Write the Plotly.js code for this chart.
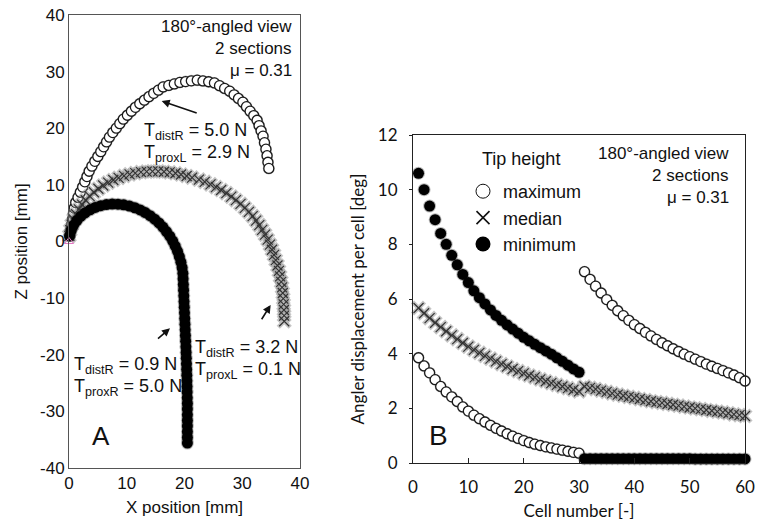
<!DOCTYPE html>
<html><head><meta charset="utf-8">
<script src="https://cdn.plot.ly/plotly-3.0.1.min.js"></script>
<style>html,body{margin:0;padding:0;background:#fff;} #chart{width:762px;height:530px;}</style>
</head><body><div id="chart"></div>
<script>
// ---------- Panel A: tip shapes (X, Z positions in mm) ----------
const maxX = [0.15,0.30,0.45,0.61,0.76,0.91,1.16,1.56,1.96,2.36,2.74,3.11,3.49,3.96,4.47,4.99,5.5,6.0,6.5,7.0,7.58,8.19,8.79,9.4,10.1,10.8,11.5,12.25,13.04,13.84,14.66,15.48,16.3,17.27,18.23,19.2,20.19,21.18,22.2,23.19,24.18,25.18,26.06,26.94,27.82,28.58,29.34,30.1,30.73,31.36,31.99,32.57,32.91,33.26,33.6,33.85,34.1,34.3,34.45,34.6];
const maxZ = [0.98,1.97,2.95,3.94,4.92,5.9,6.87,7.78,8.69,9.61,10.54,11.47,12.41,13.3,14.16,15.01,15.87,16.72,17.58,18.43,19.23,20.02,20.81,21.6,22.3,23.0,23.7,24.33,24.95,25.57,26.16,26.73,27.3,27.57,27.83,28.1,28.24,28.38,28.49,28.35,28.21,28.0,27.52,27.03,26.55,25.91,25.26,24.6,23.81,23.02,22.23,21.41,20.48,19.54,18.6,17.45,16.3,15.15,14.0,12.9];
const medX = [0.06,0.22,0.47,0.81,1.22,1.71,2.27,2.90,3.58,4.31,5.09,5.92,6.78,7.67,8.59,9.53,10.49,11.47,12.46,13.45,14.45,15.45,16.45,17.44,18.43,19.40,20.37,21.32,22.5,23.5,24.5,25.45,26.35,27.25,28.1,28.9,29.7,30.45,31.15,31.8,32.4,32.95,33.45,33.95,34.4,34.8,35.15,35.5,35.8,36.1,36.35,36.55,36.75,36.9,37.02,37.1,37.17,37.22,37.25,37.27];
const medZ = [1.00,1.99,2.95,3.90,4.81,5.68,6.51,7.29,8.02,8.70,9.32,9.89,10.40,10.86,11.25,11.58,11.86,12.08,12.24,12.34,12.39,12.38,12.32,12.21,12.05,11.83,11.57,11.27,10.92,10.53,10.09,9.61,9.09,8.53,7.93,7.30,6.64,5.94,5.22,4.47,3.69,2.89,2.06,1.21,0.34,-0.55,-1.45,-2.37,-3.30,-4.24,-5.20,-6.16,-7.13,-8.11,-9.10,-10.09,-11.09,-12.09,-13.09,-14.09];
const minX = [0.10,0.37,0.79,1.35,2.02,2.79,3.64,4.55,5.50,6.48,7.48,8.48,9.47,10.45,11.40,12.32,13.20,14.04,14.83,15.57,16.25,16.88,17.45,17.96,18.40,18.79,19.11,19.38,19.59,19.72,19.76,19.8,19.84,19.88,19.92,19.96,20.0,20.04,20.08,20.12,20.16,20.2,20.24,20.28,20.31,20.34,20.37,20.4,20.42,20.44,20.46,20.48,20.5,20.5,20.5,20.5,20.5,20.5,20.5,20.5];
const minZ = [1.00,1.96,2.86,3.69,4.43,5.07,5.60,6.02,6.33,6.53,6.62,6.60,6.48,6.27,5.96,5.57,5.10,4.56,3.94,3.27,2.54,1.76,0.94,0.08,-0.82,-1.74,-2.69,-3.65,-4.63,-5.62,-6.6,-7.6,-8.6,-9.6,-10.6,-11.6,-12.6,-13.6,-14.6,-15.6,-16.6,-17.6,-18.6,-19.6,-20.6,-21.6,-22.6,-23.6,-24.6,-25.6,-26.6,-27.6,-28.6,-29.6,-30.6,-31.6,-32.6,-33.6,-34.6,-35.6];
const baseX = [0];
const baseZ = [0];
const zTickVals = [-40,-30,-20,-10,0,10,20,30,40];
const zTickText = ['-40','-30','-20','-10','0','10','20','30','40'];
const xTickVals = [0,10,20,30,40];

// ---------- Panel B: angle displacement per cell [deg] ----------
const cellNumbers = [1,2,3,4,5,6,7,8,9,10,11,12,13,14,15,16,17,18,19,20,21,22,23,24,25,26,27,28,29,30,31,32,33,34,35,36,37,38,39,40,41,42,43,44,45,46,47,48,49,50,51,52,53,54,55,56,57,58,59,60];
const maxAngle = [3.85,3.55,3.3,3.05,2.8,2.6,2.42,2.25,2.05,1.9,1.75,1.62,1.5,1.38,1.27,1.17,1.07,0.98,0.9,0.82,0.75,0.69,0.64,0.59,0.55,0.51,0.47,0.43,0.39,0.36,7.0,6.72,6.47,6.22,5.98,5.77,5.57,5.39,5.22,5.06,4.92,4.78,4.65,4.52,4.4,4.29,4.18,4.08,3.98,3.89,3.8,3.71,3.62,3.54,3.46,3.38,3.3,3.22,3.12,3.0];
const medAngle = [5.67,5.48,5.30,5.13,4.97,4.82,4.67,4.53,4.39,4.26,4.14,4.03,3.92,3.82,3.72,3.62,3.53,3.44,3.36,3.28,3.2,3.13,3.06,2.99,2.92,2.86,2.8,2.74,2.68,2.62,2.8,2.75,2.7,2.65,2.6,2.55,2.5,2.46,2.42,2.38,2.34,2.3,2.26,2.23,2.2,2.16,2.13,2.1,2.06,2.03,2.0,1.97,1.94,1.91,1.88,1.85,1.82,1.78,1.75,1.72];
const minAngle = [10.6,10.0,9.4,8.9,8.4,8.0,7.6,7.25,6.9,6.6,6.3,6.05,5.82,5.6,5.4,5.22,5.05,4.9,4.75,4.6,4.47,4.34,4.22,4.1,3.98,3.85,3.72,3.58,3.44,3.32,0.16,0.16,0.16,0.16,0.16,0.16,0.16,0.16,0.16,0.16,0.16,0.16,0.16,0.16,0.16,0.16,0.16,0.16,0.16,0.16,0.15,0.15,0.15,0.15,0.15,0.15,0.15,0.15,0.15,0.15];
const seriesNames = ['maximum','median','minimum'];
const cellTickVals = [0,10,20,30,40,50,60];
const angleTickVals = [0,2,4,6,8,10,12];

// ---------- styling helpers ----------
const W = 762, H = 530;
const px = v => v / W;
const py = v => 1 - v / H;
const ARIAL = 'Liberation Sans, Arial, sans-serif';
const CAL = 'Lato, Liberation Sans, sans-serif';

const circShadow = {symbol:'circle', size:12, color:'rgba(110,110,110,0.45)'};
const circOpen = {symbol:'circle', size:10, color:'#ffffff', line:{color:'#1a1a1a', width:1.3}};
const xShadow = {symbol:'x-thin', size:12, line:{color:'rgba(140,140,140,0.5)', width:4.5}};
const xMain = {symbol:'x-thin', size:10, line:{color:'#333', width:1.2}};
const dotShadow = {symbol:'circle', size:13, color:'rgba(60,60,60,0.35)'};
const dotMain = {symbol:'circle', size:11, color:'#000'};

function tr(x, y, marker, xa, ya) {
  return {x:x, y:y, type:'scatter', mode:'markers', marker:marker,
    xaxis:xa, yaxis:ya, showlegend:false, hoverinfo:'skip', cliponaxis:false};
}

const data = [
  // Panel A
  tr(maxX, maxZ, circShadow, 'x', 'y'),
  tr(maxX, maxZ, circOpen, 'x', 'y'),
  tr(medX, medZ, xShadow, 'x', 'y'),
  tr(medX, medZ, xMain, 'x', 'y'),
  tr(minX, minZ, dotShadow, 'x', 'y'),
  tr(minX, minZ, dotMain, 'x', 'y'),
  tr(baseX, baseZ, {symbol:'triangle-up-open', size:8, line:{color:'#555', width:1}}, 'x', 'y'),
  // Panel B
  tr(cellNumbers, maxAngle, circShadow, 'x2', 'y2'),
  tr(cellNumbers, maxAngle, circOpen, 'x2', 'y2'),
  tr(cellNumbers, medAngle, xShadow, 'x2', 'y2'),
  tr(cellNumbers, medAngle, xMain, 'x2', 'y2'),
  tr(cellNumbers, minAngle, dotShadow, 'x2', 'y2'),
  tr(cellNumbers, minAngle, dotMain, 'x2', 'y2'),
  // legend entries
  {x:[null], y:[null], type:'scatter', mode:'markers', xaxis:'x2', yaxis:'y2', name:seriesNames[0], showlegend:true,
   marker:{symbol:'circle', size:14, color:'#fff', line:{color:'#111', width:1}}},
  {x:[null], y:[null], type:'scatter', mode:'markers', xaxis:'x2', yaxis:'y2', name:seriesNames[1], showlegend:true,
   marker:{symbol:'x-thin', size:13, line:{color:'#111', width:1.6}}},
  {x:[null], y:[null], type:'scatter', mode:'markers', xaxis:'x2', yaxis:'y2', name:seriesNames[2], showlegend:true,
   marker:{symbol:'circle', size:15, color:'#000'}}
];

function txt(t, x, y, anchor, size, font) {
  return {text:t, xref:'paper', yref:'paper', x:px(x), y:py(y), xanchor:anchor, yanchor:'middle',
          showarrow:false, font:{family:font || ARIAL, size:size, color:'#111'}};
}
function arrow(hx, hy, ax, ay) {
  return {text:' ', xref:'x', yref:'y', x:hx, y:hy, ax:ax, ay:ay, showarrow:true,
          arrowhead:2, arrowsize:1, arrowwidth:1.6, arrowcolor:'#111'};
}

const annotations = [
  txt('180°-angled view', 294, 27, 'right', 17),
  txt('2 sections', 294, 49, 'right', 17),
  txt('μ = 0.31', 294, 71, 'right', 17),
  txt('T<sub>distR</sub> = 5.0 N', 142, 131, 'left', 18),
  txt('T<sub>proxL</sub> = 2.9 N', 142, 153, 'left', 18),
  txt('T<sub>distR</sub> = 0.9 N', 72, 365, 'left', 18),
  txt('T<sub>proxR</sub> = 5.0 N', 72, 387, 'left', 18),
  txt('T<sub>distR</sub> = 3.2 N', 193, 348, 'left', 18),
  txt('T<sub>proxL</sub> = 0.1 N', 193, 370, 'left', 18),
  txt('A', 101, 436, 'center', 26),
  arrow(16.05, 24.8, 38, 13),
  arrow(17.49, -15.33, -15, 13),
  arrow(34.92, -11.21, -12, 19),
  txt('180°-angled view', 731, 154, 'right', 17),
  txt('2 sections', 731, 176, 'right', 17),
  txt('μ = 0.31', 731, 198, 'right', 17),
  txt('Tip height', 480, 159, 'left', 18),
  txt('B', 438, 435, 'center', 28)
];

const layout = {
  width:W, height:H, margin:{l:0, r:0, t:0, b:0},
  paper_bgcolor:'#fff', plot_bgcolor:'#fff',
  font:{family:ARIAL, color:'#111'},
  showlegend:true,
  legend:{x:px(463), y:py(173), xanchor:'left', yanchor:'top', bgcolor:'rgba(0,0,0,0)',
          font:{family:ARIAL, size:18, color:'#111'}, itemsizing:'trace', tracegroupgap:0},
  xaxis:{domain:[px(69), px(300)], range:[0,40], tickvals:xTickVals, showgrid:false, zeroline:false,
         showline:true, mirror:true, linecolor:'#555', linewidth:1, ticks:'', ticklabelstandoff:0,
         tickfont:{family:ARIAL, size:17, color:'#111'}, anchor:'y',
         title:{text:'X position [mm]', font:{family:ARIAL, size:17, color:'#111'}, standoff:8}},
  yaxis:{domain:[py(468), py(15)], range:[-40,40], tickvals:zTickVals, ticktext:zTickText, showgrid:false, zeroline:false,
         showline:true, mirror:true, linecolor:'#555', linewidth:1, ticks:'',
         tickfont:{family:ARIAL, size:17, color:'#111'}, anchor:'x',
         title:{text:'Z position [mm]', font:{family:ARIAL, size:17, color:'#111'}, standoff:8}},
  xaxis2:{domain:[px(413), px(745)], range:[0,60], tickvals:cellTickVals, showgrid:false, zeroline:false,
         showline:true, mirror:true, linecolor:'#222', linewidth:1, ticks:'inside', ticklen:5, tickcolor:'#222',
         ticklabelstandoff:9,
         tickfont:{family:CAL, size:17, color:'#111'}, anchor:'y2',
         title:{text:'Cell number [-]', font:{family:CAL, size:17, color:'#111'}, standoff:8}},
  yaxis2:{domain:[py(463), py(135)], range:[0,12], tickvals:angleTickVals, showgrid:false, zeroline:false,
         showline:true, mirror:true, linecolor:'#222', linewidth:1, ticks:'outside', ticklen:3, tickcolor:'#222',
         ticklabelstandoff:8,
         tickfont:{family:CAL, size:17, color:'#111'}, anchor:'x2',
         title:{text:'Angler displacement per cell [deg]', font:{family:CAL, size:17, color:'#111'}, standoff:8}},
  annotations:annotations
};

Plotly.newPlot('chart', data, layout, {displayModeBar:false, staticPlot:true});
</script>
</body></html>
